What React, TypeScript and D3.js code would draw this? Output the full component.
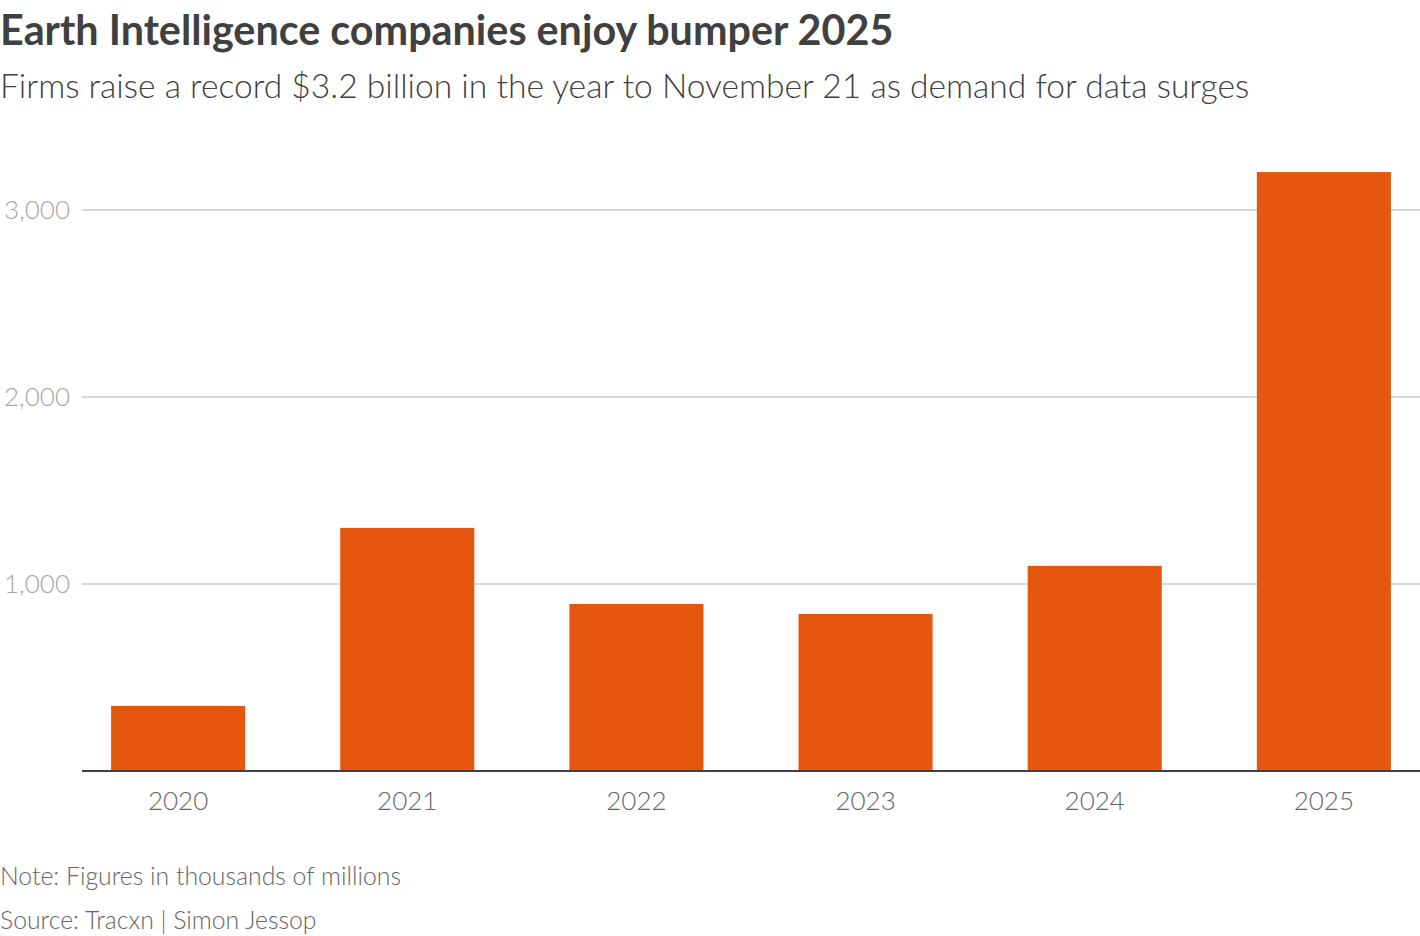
import { useEffect, useRef } from 'react';
import * as d3 from 'd3';

const YEARS = ['2020', '2021', '2022', '2023', '2024', '2025'];
const FUNDING = [348, 1300, 893, 840, 1097, 3203];
const Y_TICKS = [1000, 2000, 3000];

const TITLE = 'Earth Intelligence companies enjoy bumper 2025';
const SUBTITLE = 'Firms raise a record $3.2 billion in the year to November 21 as demand for data surges';
const NOTE = 'Note: Figures in thousands of millions';
const SOURCE = 'Source: Tracxn | Simon Jessop';

const FONT = 'Lato, "Noto Sans", sans-serif';

const App = () => {
  const svgRef = useRef<SVGSVGElement>(null);

  useEffect(() => {
    if (!svgRef.current) return;
    const svg = d3.select(svgRef.current);
    svg.selectAll('*').remove();

    const width = 1420;
    const height = 936;
    const margin = { top: 172, right: 0, bottom: 165, left: 82 };

    svg.attr('width', width).attr('height', height).style('font-family', FONT);

    const x = d3
      .scaleBand<string>()
      .domain(YEARS)
      .range([margin.left, width - margin.right])
      .paddingInner(0.415)
      .paddingOuter(0.127);

    const y = d3
      .scaleLinear()
      .domain([0, 1000])
      .range([771, 584]);

    // Titles
    svg
      .append('text')
      .attr('x', 0)
      .attr('y', 45)
      .attr('font-size', '41.3px')
      .attr('font-weight', 'bold')
      .attr('fill', '#404040')
      .text(TITLE);

    svg
      .append('text')
      .attr('x', 0)
      .attr('y', 98)
      .attr('font-size', '33.6px')
      .attr('font-weight', 300)
      .attr('fill', '#404040')
      .text(SUBTITLE);

    // Gridlines
    const grid = svg.append('g');
    grid
      .selectAll('line')
      .data(Y_TICKS)
      .join('line')
      .attr('x1', margin.left)
      .attr('x2', width)
      .attr('y1', (d) => y(d))
      .attr('y2', (d) => y(d))
      .attr('stroke', '#cccccc')
      .attr('stroke-width', 1.6);

    grid
      .selectAll('text')
      .data(Y_TICKS)
      .join('text')
      .attr('x', 70)
      .attr('y', (d) => y(d))
      .attr('dy', '0.35em')
      .attr('text-anchor', 'end')
      .attr('font-size', '26px')
      .attr('font-weight', 300)
      .attr('fill', '#a6a6a6')
      .text((d) => d3.format(',')(d));

    // Bars
    svg
      .append('g')
      .selectAll('rect')
      .data(YEARS.map((yr, i) => ({ yr, v: FUNDING[i] })))
      .join('rect')
      .attr('x', (d) => x(d.yr)!)
      .attr('width', x.bandwidth())
      .attr('y', (d) => y(d.v))
      .attr('height', (d) => y(0) - y(d.v))
      .attr('fill', '#e5560e');

    // Baseline
    svg
      .append('line')
      .attr('x1', margin.left)
      .attr('x2', width)
      .attr('y1', y(0))
      .attr('y2', y(0))
      .attr('stroke', '#404040')
      .attr('stroke-width', 2);

    // X labels
    svg
      .append('g')
      .selectAll('text')
      .data(YEARS)
      .join('text')
      .attr('x', (d) => x(d)! + x.bandwidth() / 2)
      .attr('y', 810)
      .attr('text-anchor', 'middle')
      .attr('font-size', '26px')
      .attr('font-weight', 300)
      .attr('fill', '#666666')
      .text((d) => d);

    // Footer
    svg
      .append('text')
      .attr('x', 0)
      .attr('y', 885)
      .attr('font-size', '24.8px')
      .attr('font-weight', 300)
      .attr('fill', '#666666')
      .text(NOTE);

    svg
      .append('text')
      .attr('x', 0)
      .attr('y', 929)
      .attr('font-size', '24.8px')
      .attr('font-weight', 300)
      .attr('fill', '#666666')
      .text(SOURCE);
  }, []);

  return <svg ref={svgRef} style={{ display: 'block', position: 'absolute', left: 0, top: 0 }} />;
};

export default App;
